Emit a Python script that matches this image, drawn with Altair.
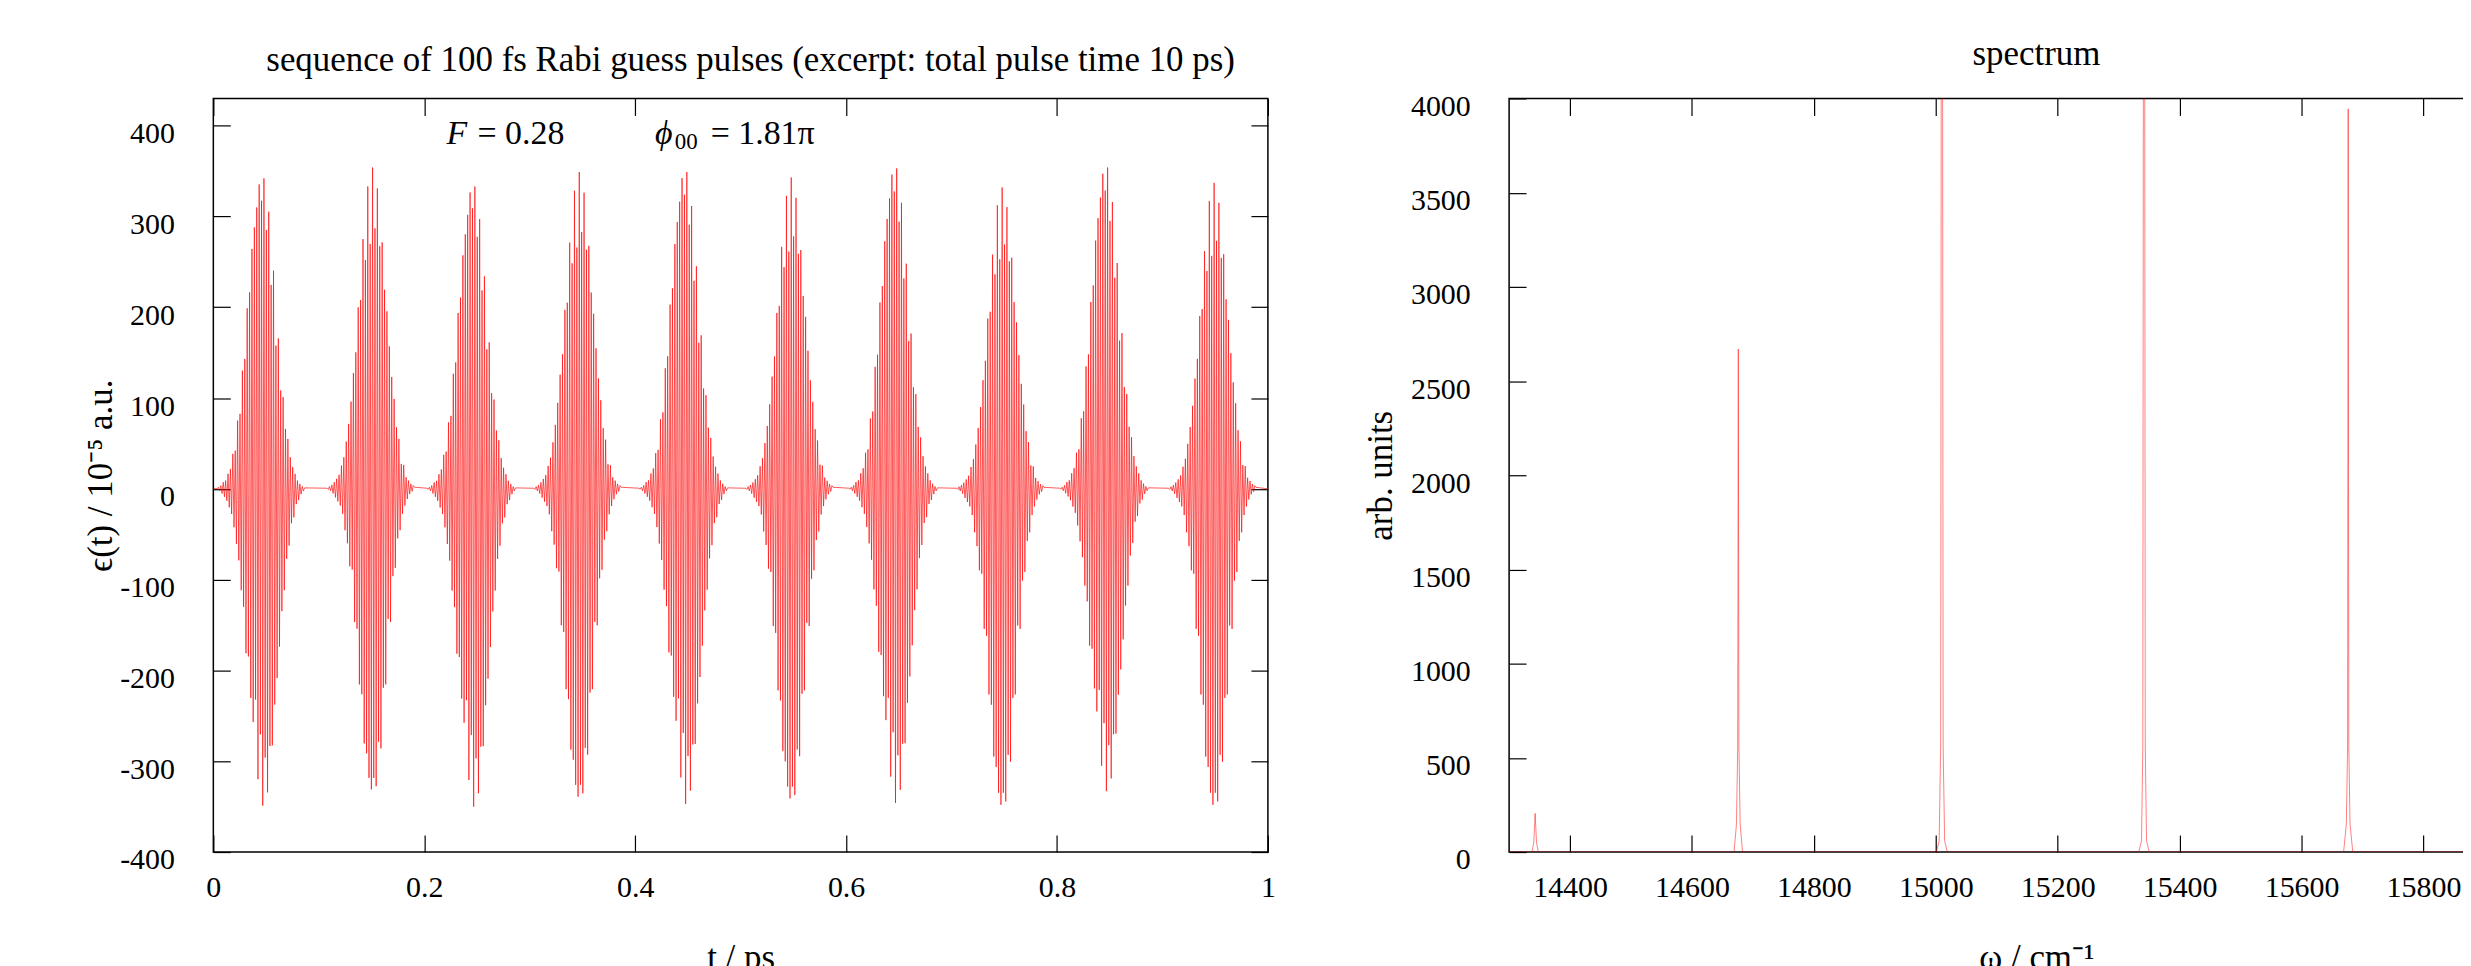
import altair as alt
import pandas as pd

FONT = "Liberation Serif"
FS = 30        # tick labels
FST = 35       # titles
TICK = 17

# ---------------- left panel: pulse train ----------------
pulse_peak_t = [0.048, 0.151, 0.248, 0.347, 0.449, 0.548, 0.648, 0.748, 0.848, 0.949]
pulse_pos_max = [342, 354, 333, 349, 349, 343, 353, 332, 354, 337]
pulse_neg_max = [349, 331, 350, 339, 347, 341, 346, 348, 333, 348]

# successive positive / negative extremes of one pulse (two read variants)
shape_a_pos = [0.7, 1.8, 3.7, 7.3, 9.1, 16.5, 21.9, 38.4, 42.0, 74.9, 82.3, 129.8, 142.6,
               198.2, 215.7, 263.3, 287.0, 308.9, 334.2, 316.3, 340.8, 284.1, 304.2, 223.8,
               239.5, 157.2, 165.2, 108.0, 100.7, 65.8, 54.8, 34.7, 23.8, 16.5, 9.1, 5.5, 2.6, 1.1]
shape_a_neg = [0.4, 2.2, 5.1, 8.8, 13.1, 20.4, 27.7, 42.3, 60.6, 78.8, 111.7, 129.9, 181.1,
               184.7, 230.4, 257.0, 232.2, 319.8, 270.5, 349.1, 296.1, 334.4, 283.3, 282.6,
               237.7, 208.5, 173.8, 134.7, 111.7, 77.0, 62.4, 37.9, 31.4, 16.8, 12.4, 5.8, 2.2]
shape_b_pos = [0.7, 2.6, 4.4, 7.3, 11.0, 15.4, 25.6, 34.7, 51.9, 71.3, 95.8, 127.2, 149.9,
               199.3, 207.3, 274.2, 251.2, 332.0, 268.7, 352.8, 286.0, 329.8, 266.3, 270.6,
               218.6, 194.9, 156.5, 122.9, 98.7, 67.6, 54.8, 27.4, 26.3, 12.8, 9.1, 5.5, 3.7, 1.8]
shape_b_neg = [0.7, 2.2, 5.1, 9.5, 13.9, 18.6, 27.7, 46.0, 60.6, 86.2, 89.8, 148.2, 155.5,
               217.6, 228.5, 283.3, 294.3, 321.6, 334.4, 321.6, 330.8, 281.5, 288.8, 221.3,
               217.6, 144.6, 148.2, 97.1, 87.9, 55.1, 46.0, 27.7, 18.6, 11.3, 5.8, 2.9]
stroke_period_ps = 0.00227

t_range = [0.0, 1.0]
e_range = [-400, 430]
t_ticks = [0, 0.2, 0.4, 0.6, 0.8, 1]
e_ticks = [-400, -300, -200, -100, 0, 100, 200, 300, 400]

# ---------------- right panel: spectrum ----------------
spec_w = [14300.0,
          14337.5, 14340.5, 14342.7, 14345.0, 14348.0,
          14669.0, 14673.0, 14675.0, 14676.0, 14677.0, 14679.0, 14683.0,
          15001.0, 15005.5, 15008.0, 15008.8, 15010.0, 15011.2, 15012.0, 15014.5, 15019.0,
          15333.0, 15337.5, 15339.6, 15340.4, 15341.6, 15342.8, 15343.6, 15345.7, 15350.0,
          15669.0, 15673.5, 15675.5, 15676.5, 15677.5, 15679.5, 15684.0,
          16030.0]
spec_amp = [0,
            0, 50, 205, 50, 0,
            0, 150, 560, 2670, 560, 150, 0,
            0, 60, 560, 3800, 9000, 3800, 560, 60, 0,
            0, 60, 560, 3800, 9000, 3800, 560, 60, 0,
            0, 150, 560, 3945, 560, 150, 0,
            0]
w_range = [14300, 16030]
a_range = [0, 4000]
w_ticks = [14400, 14600, 14800, 15000, 15200, 15400, 15600, 15800, 16000]
a_ticks = [0, 500, 1000, 1500, 2000, 2500, 3000, 3500, 4000]

# ---------------- annotations ----------------
ann_txt = ["F", "= 0.28", "ϕ", "00", "= 1.81π"]
ann_t = [0.2212, 0.2505, 0.4187, 0.4376, 0.4716]
ann_v = [391, 391, 391, 391, 391]
ann_style = ["italic", "normal", "italic", "normal", "normal"]
ann_size = [34, 34, 34, 23, 34]
ann_dy = [0, 0, 0, 8, 0]

# ---------------- build tables ----------------
rows = [{"t": t_range[0], "e": 0.0}]
shapes = [(shape_a_pos, shape_a_neg), (shape_b_pos, shape_b_neg)]
for k, tp in enumerate(pulse_peak_t):
    pos, neg = shapes[k % 2]
    sp = pulse_pos_max[k] / max(pos)
    sn = pulse_neg_max[k] / max(neg)
    seq = []
    for i in range(max(len(pos), len(neg))):
        if i < len(pos):
            seq.append(pos[i] * sp)
        if i < len(neg):
            seq.append(-neg[i] * sn)
    m_peak = 2 * pos.index(max(pos))
    for m, v in enumerate(seq):
        rows.append({"t": tp + (m - m_peak) * stroke_period_ps / 2, "e": v})
rows.append({"t": t_range[1], "e": 0.0})
df_pulse = pd.DataFrame(rows)

df_spec = pd.DataFrame({"w": spec_w, "a": spec_amp})

LABEL_EXPR = "datum.value + ''"


def axis(orient, values, title=None, labels=True, label_pad=0, title_pad=0, label_offset=0):
    kw = dict(orient=orient, values=values, offset=-TICK, tickSize=TICK, domain=False,
              grid=False, ticks=True, tickColor="black", tickWidth=1.2,
              labels=labels, labelFont=FONT, labelFontSize=FS, labelColor="black",
              labelExpr=LABEL_EXPR, labelPadding=label_pad, labelFlush=False,
              labelOverlap=False)
    if label_offset:
        kw["labelOffset"] = label_offset
    if title is not None:
        kw.update(title=title, titleFont=FONT, titleFontSize=FST, titleFontWeight="normal",
                  titleColor="black", titlePadding=title_pad)
    else:
        kw["title"] = None
    return alt.Axis(**kw)


def panel(df, xf, yf, xdom, ydom, xticks, yticks, xtitle, ytitle, title, ytitle_pad,
          title_dx, extra=(), line_opacity=0.65):
    xs = alt.Scale(domain=xdom, nice=False, zero=False)
    ys = alt.Scale(domain=ydom, nice=False, zero=False)
    main = alt.Chart(df).mark_line(color="#ff0000", strokeWidth=1, opacity=line_opacity,
                                   clip=True).encode(
        x=alt.X(f"{xf}:Q", scale=xs,
                axis=axis("bottom", xticks, xtitle, label_pad=21, title_pad=38)),
        y=alt.Y(f"{yf}:Q", scale=ys,
                axis=axis("left", yticks, ytitle, label_pad=39, title_pad=ytitle_pad,
                          label_offset=8)),
        order=alt.Order(f"{xf}:Q"),
    )
    mirror = alt.Chart(df).mark_line(opacity=0, clip=True).encode(
        x=alt.X(f"{xf}:Q", scale=xs, axis=axis("top", xticks, labels=False)),
        y=alt.Y(f"{yf}:Q", scale=ys, axis=axis("right", yticks, labels=False)),
    )
    layers = [main, mirror] + list(extra)
    return alt.layer(*layers).resolve_axis(x="independent", y="independent").properties(
        width=1058, height=756,
        title=alt.TitleParams(title, font=FONT, fontSize=FST, fontWeight="normal",
                              color="black", anchor="middle", offset=20, dx=title_dx),
    )


ann_layers = []
for i in range(len(ann_txt)):
    sub = pd.DataFrame({"t": [ann_t[i]], "e": [ann_v[i]], "txt": [ann_txt[i]]})
    ann_layers.append(
        alt.Chart(sub).mark_text(font=FONT, fontSize=ann_size[i], fontStyle=ann_style[i],
                                 align="left", baseline="middle", dy=ann_dy[i],
                                 color="black").encode(
            x=alt.X("t:Q", axis=None), y=alt.Y("e:Q", axis=None), text="txt:N")
    )

left = panel(df_pulse, "t", "e", t_range, e_range, t_ticks, e_ticks, "t / ps",
             "ϵ(t) / 10⁻⁵ a.u.",
             "sequence of 100 fs Rabi guess pulses (excerpt: total pulse time 10 ps)",
             1, 10, extra=ann_layers, line_opacity=0.65)
right = panel(df_spec, "w", "a", w_range, a_range, w_ticks, a_ticks, "ω / cm⁻¹",
              "arb. units", "spectrum", 12, 0, line_opacity=0.5)

# with autosize "none" the padding places the first plot area's top-left corner
PAD_L, PAD_T = 206, 88
TOTAL_W, TOTAL_H = 2463, 946
chart = alt.hconcat(left, right, spacing=86).properties(
    autosize=alt.AutoSizeParams(type="none"),
    padding={"left": PAD_L, "top": PAD_T, "right": TOTAL_W - PAD_L, "bottom": TOTAL_H - PAD_T},
    background="white",
).configure_view(stroke="black", strokeWidth=1.5)

chart.save("out.html", embed_options={"renderer": "svg", "actions": False})
